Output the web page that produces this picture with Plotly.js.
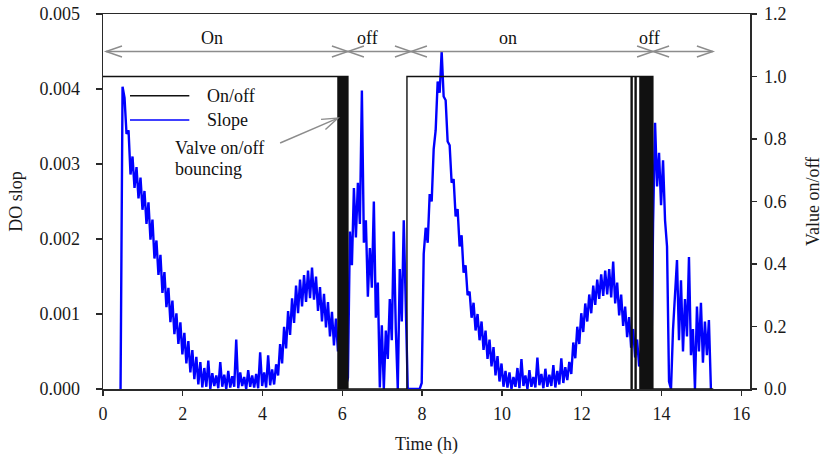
<!DOCTYPE html>
<html>
<head>
<meta charset="utf-8">
<script src="https://cdn.plot.ly/plotly-3.0.1.min.js"></script>
<style>
html,body{margin:0;padding:0;background:#fff;}
#chart{width:823px;height:460px;}
</style>
</head>
<body>
<div id="chart"></div>
<script>
// ---- DO slope series (left axis), evenly sampled in time ----
const slopeStartTime = 0.44;   // h
const slopeTimeStep = 0.05;    // h
const slopeValues = [
  0, 0.00403, 0.00388, 0.00340, 0.00345, 0.00286, 0.00310, 0.00268, 0.00296, 0.00254,
  0.00282, 0.00239, 0.00264, 0.00220, 0.00249, 0.00199, 0.00226, 0.00174, 0.00198, 0.00152,
  0.00179, 0.00128, 0.00156, 0.00109, 0.00135, 0.00089, 0.00118, 0.00073, 0.00101, 0.00060,
  0.00089, 0.00046, 0.00075, 0.00034, 0.00064, 0.00022, 0.00052, 0.00013, 0.00043, 0.00006,
  0.00036, 0.00002, 0.00028, 0.00003, 0.00038, 0.00000, 0.00021, 0.00004, 0.00018, 0.00001,
  0.00036, 0.00003, 0.00019, 0.00000, 0.00024, 0.00002, 0.00017, 0.00003, 0.00066, 0.00001,
  0.00022, 0.00004, 0.00016, 0.00000, 0.00025, 0.00003, 0.00018, 0.00002, 0.00020, 0.00001,
  0.00049, 0.00004, 0.00022, 0.00002, 0.00045, 0.00005, 0.00026, 0.00006, 0.00033, 0.00018,
  0.00060, 0.00034, 0.00083, 0.00054, 0.00104, 0.00072, 0.00121, 0.00088, 0.00138, 0.00101,
  0.00146, 0.00110, 0.00152, 0.00116, 0.00158, 0.00121, 0.00162, 0.00119, 0.00150, 0.00104,
  0.00136, 0.00090, 0.00127, 0.00082, 0.00116, 0.00070, 0.00103, 0.00058, 0.00094, 0.00050,
  0.00079, 0.00029, 0.00046, 0.00004, 0.00015, 0.00210, 0.00165, 0.00268, 0.00202, 0.00275,
  0.00220, 0.00398, 0.00195, 0.00225, 0.00123, 0.00188, 0.00135, 0.00250, 0.00095, 0.00142,
  0.00002, 0.00085, 0.00000, 0.00078, 0.00040, 0.00120, 0.00065, 0.00210, 0.00080, 0.00000,
  0.00160, 0.00090, 0.00225, 0.00120, 0.00000, 0, 0, 0, 0, 0,
  0, 0.00008, 0.00180, 0.00215, 0.00195, 0.00260, 0.00250, 0.00320, 0.00345, 0.00410,
  0.00395, 0.00450, 0.00390, 0.00385, 0.00330, 0.00325, 0.00275, 0.00280, 0.00230, 0.00240,
  0.00190, 0.00205, 0.00155, 0.00165, 0.00125, 0.00130, 0.00095, 0.00115, 0.00078, 0.00100,
  0.00065, 0.00090, 0.00052, 0.00078, 0.00040, 0.00066, 0.00030, 0.00056, 0.00018, 0.00044,
  0.00010, 0.00034, 0.00003, 0.00024, 0.00002, 0.00022, 0.00000, 0.00016, 0.00003, 0.00028,
  0.00001, 0.00040, 0.00004, 0.00018, 0.00000, 0.00025, 0.00003, 0.00016, 0.00002, 0.00042,
  0.00005, 0.00020, 0.00001, 0.00027, 0.00003, 0.00019, 0.00004, 0.00032, 0.00002, 0.00024,
  0.00006, 0.00041, 0.00008, 0.00029, 0.00012, 0.00036, 0.00020, 0.00062, 0.00041, 0.00083,
  0.00060, 0.00101, 0.00076, 0.00114, 0.00090, 0.00126, 0.00101, 0.00138, 0.00112, 0.00146,
  0.00120, 0.00153, 0.00124, 0.00158, 0.00126, 0.00160, 0.00122, 0.00170, 0.00114, 0.00142,
  0.00098, 0.00126, 0.00084, 0.00110, 0.00069, 0.00096, 0.00055, 0.00080, 0.00042, 0.00066,
  0.00030, 0.00052, 0.00018, 0.00036, 0.00006, 0.00020, 0.00000, 0.00220, 0.00355, 0.00270,
  0.00315, 0.00245, 0.00305, 0.00225, 0.00190, 0.00010, 0.00000, 0.00079, 0.00135, 0.00172,
  0.00065, 0.00145, 0.00050, 0.00120, 0.00070, 0.00176, 0.00045, 0.00080, 0.00000, 0.00110,
  0.00050, 0.00115, 0.00035, 0.00090, 0.00045, 0.00092, 0.00000
];

// ---- Valve on/off signal (right axis), step changes ----
const onOffTime = [
  0, 5.89, 5.915, 5.94, 5.965, 5.99, 6.015, 6.04, 6.065, 6.09, 6.115, 6.14,
  7.62,
  13.24, 13.265, 13.34, 13.365,
  13.46, 13.48, 13.50, 13.52, 13.54, 13.56, 13.585, 13.605, 13.625, 13.645, 13.67, 13.69,
  13.71, 13.73, 13.75, 13.77, 13.785,
  15.3
];
const onOffValue = [
  1, 0, 1, 0, 1, 0, 1, 0, 1, 0, 1, 0,
  1,
  0, 1, 0, 1,
  0, 1, 0, 1, 0, 1, 0, 1, 0, 1, 0, 1,
  0, 1, 0, 1, 0,
  0
];

// ---- Phase arrows above the plot ----
const phaseLabels = ['On', 'off', 'on', 'off'];
const phaseStart = [0.075, 6.14, 7.72, 13.79];
const phaseEnd = [6.14, 7.72, 13.79, 15.29];
const phaseLabelTime = [2.73, 6.62, 10.15, 13.71];
const phaseArrowLevel = 0.0045;
const phaseLabelLevel = 0.00468;

// ---- Legend and callout (manual) ----
const legendNames = ['On/off', 'Slope'];
const legendColors = ['#111111', '#0000ff'];
const legendLevels = [0.00391, 0.003587];
const calloutLines = ['Valve on/off', 'bouncing'];
const calloutLevels = [0.003213, 0.002933];

const FONT = 'Liberation Serif, "Times New Roman", Times, serif';
const AXC = '#2a2a2a';

const traces = [
  {
    x: onOffTime, y: onOffValue, yaxis: 'y2', type: 'scatter', mode: 'lines',
    line: {color: '#111111', width: 1.4, shape: 'hv'}, name: 'On/off', showlegend: false,
    hoverinfo: 'skip'
  },
  {
    y: slopeValues, x0: slopeStartTime, dx: slopeTimeStep, type: 'scatter', mode: 'lines',
    line: {color: '#0000ff', width: 2.4}, name: 'Slope', showlegend: false,
    hoverinfo: 'skip'
  }
];

const shapes = [];
const annotations = [];
const GRAY = '#8c8c8c';
for (let k = 0; k < phaseLabels.length; k++) {
  shapes.push({type: 'line', xref: 'x', yref: 'y', x0: phaseStart[k], x1: phaseEnd[k],
    y0: phaseArrowLevel, y1: phaseArrowLevel, line: {color: GRAY, width: 1.4}});
  shapes.push({type: 'path', xref: 'x', yref: 'y', xsizemode: 'pixel', ysizemode: 'pixel',
    xanchor: phaseStart[k], yanchor: phaseArrowLevel, path: 'M 16,5.5 L 0,0 L 16,-5.5',
    line: {color: GRAY, width: 1.4}});
  shapes.push({type: 'path', xref: 'x', yref: 'y', xsizemode: 'pixel', ysizemode: 'pixel',
    xanchor: phaseEnd[k], yanchor: phaseArrowLevel, path: 'M -16,5.5 L 0,0 L -16,-5.5',
    line: {color: GRAY, width: 1.4}});
  annotations.push({x: phaseLabelTime[k], y: phaseLabelLevel, xref: 'x', yref: 'y',
    text: phaseLabels[k], showarrow: false, font: {family: FONT, size: 18, color: '#111'}});
}
// valve callout arrow
shapes.push({type: 'line', xref: 'x', yref: 'y', x0: 4.44, y0: 0.00328, x1: 5.89, y1: 0.003613,
  line: {color: GRAY, width: 1.4}});
shapes.push({type: 'path', xref: 'x', yref: 'y', xsizemode: 'pixel', ysizemode: 'pixel',
  xanchor: 5.89, yanchor: 0.003613, path: 'M -16.9,-1.3 L 0,0 L -12.5,-11.4',
  line: {color: GRAY, width: 1.4}});
for (let k = 0; k < calloutLines.length; k++) {
  annotations.push({x: 1.762, y: calloutLevels[k], xref: 'x', yref: 'y', xanchor: 'left',
    text: calloutLines[k], showarrow: false, font: {family: FONT, size: 18, color: '#111'}});
}
// manual legend
for (let k = 0; k < legendNames.length; k++) {
  shapes.push({type: 'line', xref: 'x', yref: 'y', x0: 0.677, x1: 2.164,
    y0: legendLevels[k], y1: legendLevels[k], line: {color: legendColors[k], width: 1.6}});
  annotations.push({x: 2.557, y: legendLevels[k], xref: 'x', yref: 'y', xanchor: 'left',
    text: legendNames[k], showarrow: false, font: {family: FONT, size: 18, color: '#111'}});
}

const layout = {
  width: 823, height: 460,
  margin: {l: 103, r: 73, t: 14, b: 71, pad: 0},
  paper_bgcolor: '#ffffff', plot_bgcolor: '#ffffff',
  font: {family: FONT, size: 18, color: '#1a1a1a'},
  showlegend: false,
  xaxis: {
    range: [0, 16.22], tick0: 0, dtick: 2, showgrid: false, zeroline: false,
    showline: true, mirror: true, linecolor: AXC, linewidth: 1.5,
    ticks: 'outside', ticklen: 5, tickwidth: 1.4, tickcolor: AXC, ticklabelstandoff: 3,
    tickfont: {family: FONT, size: 18, color: '#1a1a1a'},
    title: {text: 'Time (h)', font: {family: FONT, size: 18, color: '#1a1a1a'}, standoff: 14}
  },
  yaxis: {
    range: [0, 0.005], tick0: 0, dtick: 0.001, tickformat: '.3f', showgrid: false, zeroline: false,
    showline: true, linecolor: AXC, linewidth: 1.5,
    ticks: 'outside', ticklen: 6, tickwidth: 1.4, tickcolor: AXC, ticklabelstandoff: 12,
    tickfont: {family: FONT, size: 18, color: '#1a1a1a'},
    title: {text: 'DO slop', font: {family: FONT, size: 18, color: '#1a1a1a'}, standoff: 12}
  },
  yaxis2: {
    overlaying: 'y', side: 'right', range: [0, 1.2], tick0: 0, dtick: 0.2, tickformat: '.1f',
    showgrid: false, zeroline: false, showline: true, linecolor: AXC, linewidth: 1.5,
    ticks: 'outside', ticklen: 5, tickwidth: 1.4, tickcolor: AXC, ticklabelstandoff: 4,
    tickfont: {family: FONT, size: 18, color: '#1a1a1a'},
    title: {text: 'Value on/off', font: {family: FONT, size: 18, color: '#1a1a1a'}, standoff: 23}
  },
  shapes: shapes,
  annotations: annotations
};

Plotly.newPlot('chart', traces, layout, {staticPlot: true, displayModeBar: false});
</script>
</body>
</html>
